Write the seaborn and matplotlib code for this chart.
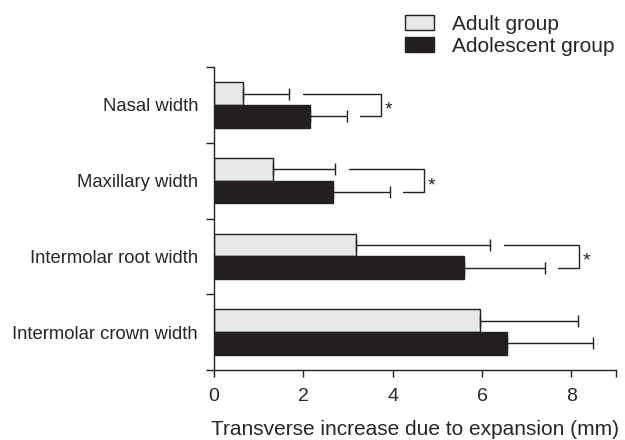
import numpy as np
import pandas as pd
import seaborn as sns
import matplotlib.pyplot as plt

categories = ['Nasal width', 'Maxillary width', 'Intermolar root width', 'Intermolar crown width']
groups = ['Adult group', 'Adolescent group']
adult_mean = [0.66, 1.31, 3.19, 5.95]
adult_sd = [1.02, 1.41, 2.99, 2.21]
adolescent_mean = [2.16, 2.67, 5.59, 6.57]
adolescent_sd = [0.82, 1.27, 1.83, 1.92]
significant = [True, True, True, False]
x_ticks = [0, 2, 4, 6, 8, 9]
x_tick_labels = ['0', '2', '4', '6', '8', '']

df = pd.DataFrame({
    'measure': categories * 2,
    'value': adult_mean + adolescent_mean,
    'group': [groups[0]] * 4 + [groups[1]] * 4,
})
sds = [adult_sd, adolescent_sd]

sns.set_style('ticks')
plt.rcParams['font.family'] = ['Liberation Sans', 'DejaVu Sans']

fig, ax = plt.subplots(figsize=(6.25, 4.4), dpi=100)
fig.subplots_adjust(left=0.3424, right=0.9856, top=0.8477, bottom=0.1591)

dark = '#231f20'
sns.barplot(data=df, y='measure', x='value', hue='group', orient='h',
            palette=['#e6e7e8', dark], width=0.6, saturation=1,
            edgecolor=dark, linewidth=1, errorbar=None, ax=ax)

# one-sided error bars
ends = []
centers = []
for cont, sd in zip(ax.containers, sds):
    ys = np.array([b.get_y() + b.get_height() / 2 for b in cont])
    xs = np.array([b.get_width() for b in cont])
    ax.errorbar(xs, ys, xerr=[np.zeros(len(sd)), sd], fmt='none',
                ecolor=dark, elinewidth=1, capsize=4.3, capthick=1)
    ends.append(xs + np.array(sd))
    centers.append(ys)

# significance brackets
for i, sig in enumerate(significant):
    if not sig:
        continue
    a_end, b_end = ends[0][i], ends[1][i]
    y_up, y_lo = centers[0][i], centers[1][i]
    xb = max(a_end, b_end) + 0.76
    ax.plot([a_end + 0.31, xb, xb, b_end + 0.29], [y_up, y_up, y_lo, y_lo],
            color=dark, lw=1, solid_joinstyle='miter')
    ax.annotate('*', xy=(xb, (y_up + y_lo) / 2), xytext=(2.5, -6.8),
                textcoords='offset points', ha='left', va='baseline',
                fontsize=14, color=dark)

ax.set_xlim(0, 9)
ax.set_ylim(3.5, -0.5)
ax.set_xticks(x_ticks)
ax.set_xticklabels(x_tick_labels, fontsize=14)
ax.set_yticks(range(len(categories)))
ax.set_yticklabels(categories, fontsize=13.3)
ax.set_yticks([-0.5, 0.5, 1.5, 2.5, 3.5], minor=True)
ax.tick_params(axis='y', which='major', length=0, pad=11.5)
ax.tick_params(axis='y', which='minor', length=6, width=1, color=dark)
ax.tick_params(axis='x', length=5, width=1, pad=8, color=dark)
ax.set_ylabel('')
ax.set_xlabel('Transverse increase due to expansion (mm)', fontsize=15, labelpad=11)
for s in ['top', 'right']:
    ax.spines[s].set_visible(False)
for s in ['left', 'bottom']:
    ax.spines[s].set_linewidth(1)
    ax.spines[s].set_color(dark)

sns.move_legend(ax, 'upper left', bbox_to_anchor=(405 / 625, 1 - 15 / 440),
                bbox_transform=fig.transFigure, frameon=False, title=None,
                fontsize=15, borderpad=0, borderaxespad=0, handlelength=1.39,
                handleheight=0.72, handletextpad=0.86, labelspacing=0.15)

plt.savefig('out.png', dpi=100)
